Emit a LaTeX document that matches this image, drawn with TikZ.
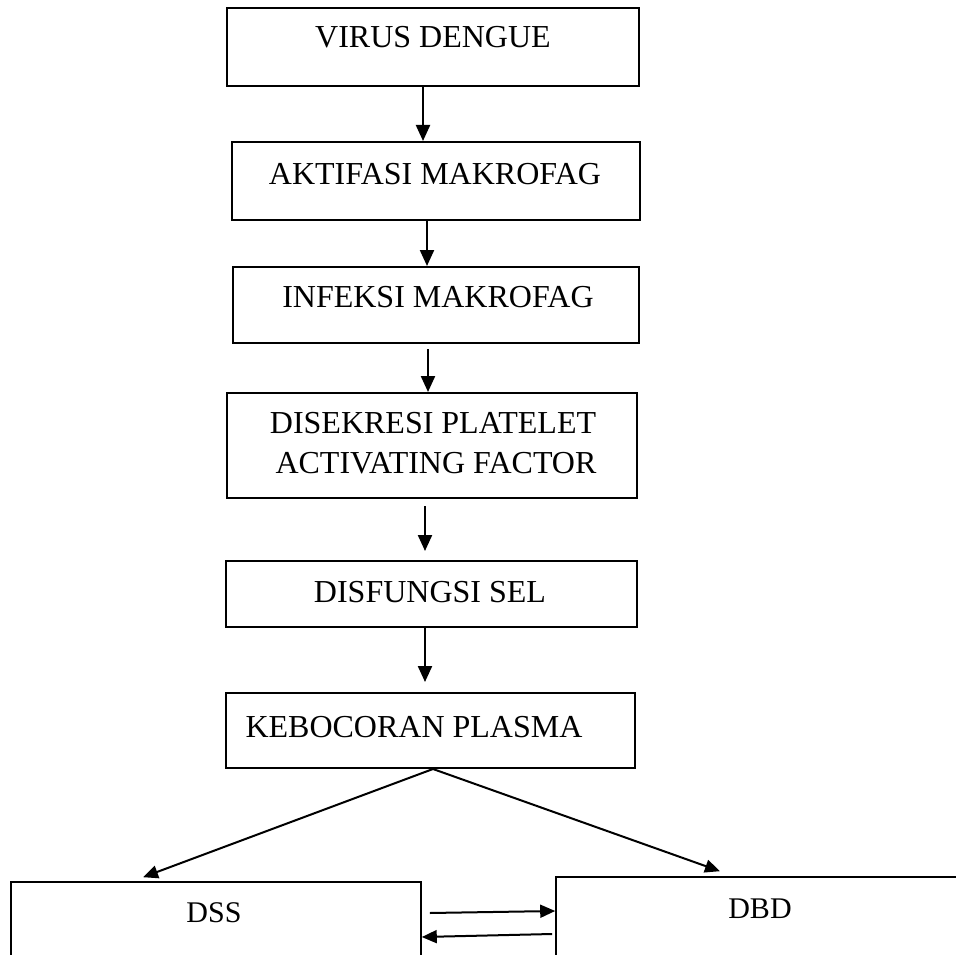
\documentclass[tikz,border=0pt]{standalone}
\usepackage{fontspec}
\setmainfont{Liberation Serif}
\usetikzlibrary{arrows.meta}
\begin{document}
\begin{tikzpicture}[x=1pt,y=-1pt,
  box/.style={draw=black,line width=2pt,rectangle,inner sep=0pt},
  lowbox/.style={draw=black,line width=1.6pt,rectangle,inner sep=0pt},
  lbl/.style={anchor=base,inner sep=0pt,font=\fontsize{32}{39}\selectfont},
  slbl/.style={anchor=base,inner sep=0pt,font=\fontsize{30}{36}\selectfont},
  arr/.style={line width=2.2pt,-{Triangle[length=16pt,width=14pt]}},
  sarr/.style={line width=2pt,-{Triangle[length=15pt,width=13pt]}}]
\useasboundingbox (0,0) rectangle (956,955);
\clip (0,0) rectangle (956,955);
\fill[white] (0,0) rectangle (956,955);
% boxes
\node[box,minimum width=412pt,minimum height=78pt] (b1) at (433,47) {};
\node[box,minimum width=408pt,minimum height=78pt] (b2) at (436,181) {};
\node[box,minimum width=406pt,minimum height=76pt] (b3) at (436,305) {};
\node[box,minimum width=410pt,minimum height=105pt] (b4) at (432,445.5) {};
\node[box,minimum width=411pt,minimum height=66pt] (b5) at (431.5,594) {};
\node[box,minimum width=409pt,minimum height=75pt] (b6) at (430.5,730.5) {};
\node[lowbox,minimum width=410pt,minimum height=128pt] (dss) at (216,946) {};
\node[lowbox,minimum width=454pt,minimum height=133pt] (dbd) at (783,943.5) {};
% texts
\node[lbl] (t1) at (433,48) {VIRUS DENGUE};
\node[lbl] (t2) at (435,185) {AKTIFASI MAKROFAG};
\node[lbl] (t3) at (438,307) {INFEKSI MAKROFAG};
\node[lbl] (t4a) at (433,433) {DISEKRESI PLATELET};
\node[lbl] (t4b) at (436,473) {ACTIVATING FACTOR};
\node[lbl] (t5) at (430,602) {DISFUNGSI SEL};
\node[lbl] (t6) at (414,737) {KEBOCORAN PLASMA};
\node[slbl] (t7) at (214,922) {DSS};
\node[slbl] (t8) at (760,918) {DBD};
% arrows
\draw[arr] ([xshift=-10pt]b1.south) -- ([xshift=-10pt]b1.south |- b2.north);
\draw[arr] ([xshift=-9pt]b2.south) -- ([xshift=-9pt]b2.south |- b3.north);
\draw[arr] ([xshift=-8pt,yshift=-5pt]b3.south) -- ([xshift=-8pt]b3.south |- b4.north);
\draw[arr] ([xshift=-7pt,yshift=-7pt]b4.south) -- ([xshift=-7pt,yshift=9pt]b4.south |- b5.north);
\draw[arr] ([xshift=-6.5pt]b5.south) -- ([xshift=-6.5pt,yshift=10pt]b5.south |- b6.north);
\draw[sarr] ([xshift=2.5pt]b6.south) -- ([xshift=-73pt,yshift=4pt]dss.north);
\draw[sarr] ([xshift=2.5pt]b6.south) -- ([xshift=-63pt,yshift=5pt]dbd.north);
\draw[sarr] ([xshift=8pt,yshift=33pt]dss.east) -- ([yshift=32.5pt]dbd.west);
\draw[sarr] ([xshift=-3pt,yshift=9.5pt]dbd.west) -- ([yshift=9pt]dss.east);
\end{tikzpicture}
\end{document}
